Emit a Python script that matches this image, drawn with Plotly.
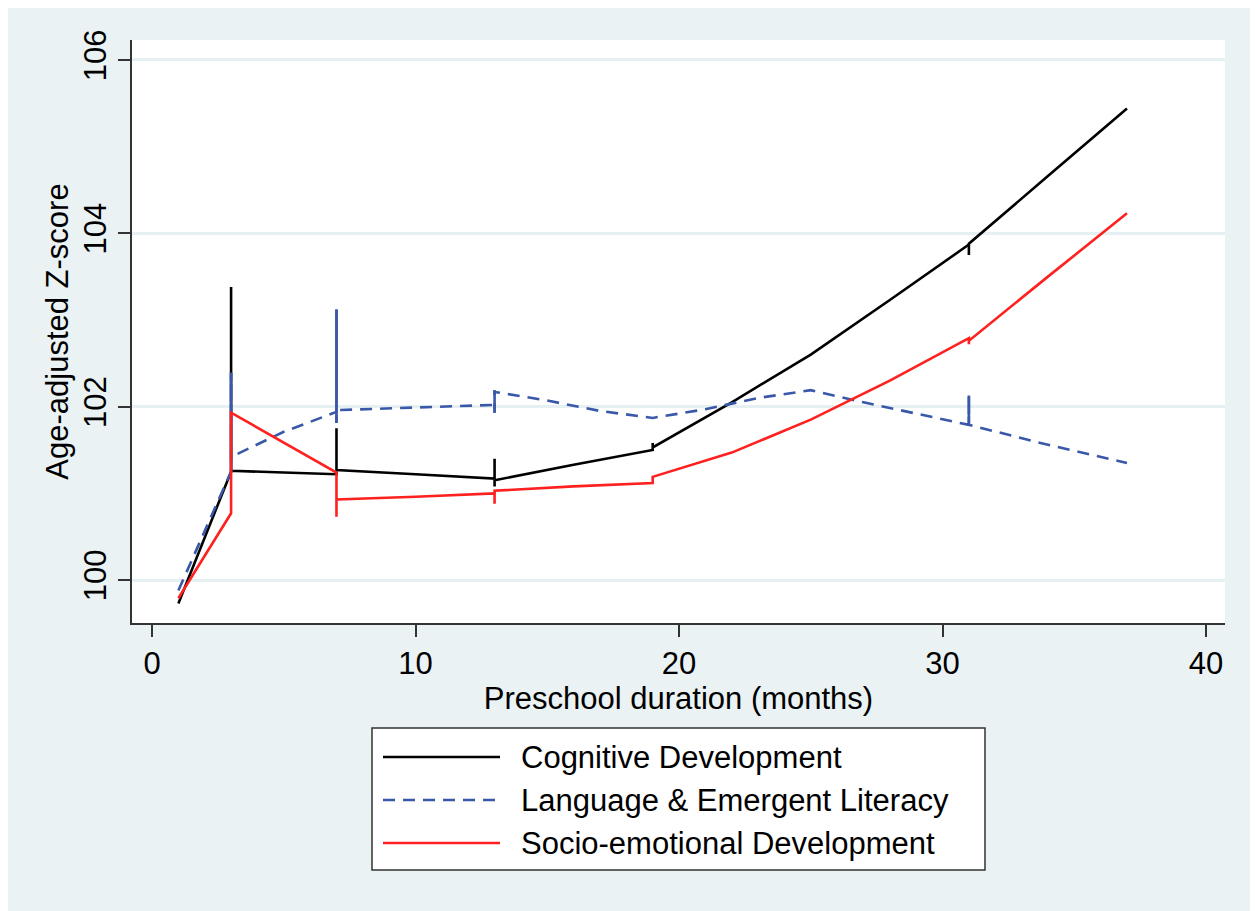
import plotly.graph_objects as go

# ---------------- data ----------------
months_cog = [1, 3, 3, 3, 5, 7, 7, 7, 10, 13, 13, 13, 13, 16, 19, 19, 19, 22, 25, 28, 31, 31, 31, 34, 37]
cognitive = [99.73, 101.25, 103.38, 101.26, 101.24, 101.22, 101.75, 101.27, 101.22,
             101.17, 101.40, 101.08, 101.15, 101.33, 101.50, 101.58, 101.53,
             102.05, 102.60, 103.23, 103.87, 103.75, 103.88, 104.66, 105.44]

months_lang = [1, 3, 3, 3, 5, 7, 7, 7, 7, 10, 13, 13, 13, 13, 15, 17, 19, 21, 23, 25, 27, 29, 31, 31, 31, 34, 37]
language = [99.88, 101.25, 102.39, 101.42, 101.71, 101.94, 103.12, 101.81, 101.96, 101.99,
            102.02, 101.93, 102.19, 102.17, 102.07, 101.95, 101.87, 101.97, 102.10,
            102.19, 102.05, 101.92, 101.79, 102.13, 101.79, 101.56, 101.35]

months_soc = [1, 3, 3, 7, 7, 7, 10, 13, 13, 13, 16, 19, 19, 22, 25, 28, 31, 31, 31, 34, 37]
socio = [99.79, 100.77, 101.93, 101.24, 100.73, 100.93, 100.96, 101.00, 100.88, 101.03,
         101.08, 101.12, 101.19, 101.47, 101.85, 102.30, 102.79, 102.72, 102.76, 103.50, 104.23]

series_names = ["Cognitive Development", "Language & Emergent Literacy", "Socio-emotional Development"]
x_ticks = [0, 10, 20, 30, 40]
y_ticks = [100, 102, 104, 106]

# ---------------- style ----------------
FONT = "Liberation Sans, Arial, sans-serif"
FS = 31
BG = "#EAF2F3"
AXC = "#333333"
colors = ["#000000", "#3A58A8", "#FF2020"]
dashes = ["solid", "12px,8px", "solid"]

PAGE_W, PAGE_H = 1258, 911
OFF = 8  # default page body margin (gives the thin white border)
W, H = PAGE_W - OFF, PAGE_H - OFF
L, R, T, B = 132, 1225, 40, 623  # plot area in page pixels


def px(xp):
    return (xp - L) / (R - L)


def py(yp):
    return (B - yp) / (B - T)


def vertical_parts(xs, ys):
    """Runs of points sharing the same x (drawn solid, as in the original)."""
    vx, vy = [], []
    i = 0
    while i < len(xs):
        j = i
        while j + 1 < len(xs) and xs[j + 1] == xs[i]:
            j += 1
        if j > i:
            vx += xs[i:j + 1] + [None]
            vy += ys[i:j + 1] + [None]
        i = j + 1
    return vx, vy


fig = go.Figure()
for xs, ys, name, c, d in zip([months_cog, months_lang, months_soc],
                              [cognitive, language, socio],
                              series_names, colors, dashes):
    fig.add_trace(go.Scatter(x=xs, y=ys, mode="lines", name=name,
                             line=dict(color=c, width=2.6, dash=d),
                             showlegend=False, hoverinfo="x+y+name"))
    if d != "solid":
        vx, vy = vertical_parts(xs, ys)
        fig.add_trace(go.Scatter(x=vx, y=vy, mode="lines", name=name,
                                 line=dict(color=c, width=2.6), connectgaps=False,
                                 showlegend=False, hoverinfo="skip"))

shapes = []
annotations = []
# legend box (drawn manually to match long sample lines)
shapes.append(dict(type="rect", xref="paper", yref="paper", x0=px(372), x1=px(985), y0=py(870), y1=py(728),
                   fillcolor="white", line=dict(color=AXC, width=1.5)))
rows = [757, 800, 843]
for name, c, d, ry in zip(series_names, colors, dashes, rows):
    shapes.append(dict(type="line", xref="paper", yref="paper", x0=px(383), x1=px(500), y0=py(ry), y1=py(ry),
                       line=dict(color=c, width=2.6, dash=d)))
    annotations.append(dict(xref="paper", yref="paper", x=px(519), y=py(ry), text=name, showarrow=False,
                            xanchor="left", yanchor="middle", font=dict(family=FONT, size=FS, color="black")))

fig.update_layout(
    width=W, height=H,
    margin=dict(l=L - OFF, r=PAGE_W - R, t=T - OFF, b=PAGE_H - B, pad=0),
    paper_bgcolor=BG, plot_bgcolor="white",
    font=dict(family=FONT, size=FS, color="black"),
    shapes=shapes, annotations=annotations,
    xaxis=dict(range=[-0.76, 40.72], tickvals=x_ticks, ticks="outside", ticklen=12, tickwidth=1.5,
               tickcolor=AXC, showline=True, linecolor=AXC, linewidth=1.5, showgrid=False, zeroline=False,
               tickfont=dict(family=FONT, size=FS),
               title=dict(text="Preschool duration (months)", font=dict(family=FONT, size=FS), standoff=2)),
    yaxis=dict(range=[99.504, 106.23], tickvals=y_ticks, tickangle=-90, ticks="outside", ticklen=12,
               tickwidth=1.5, tickcolor=AXC, showline=True, linecolor=AXC, linewidth=1.5,
               showgrid=True, gridcolor="#E6EFF1", gridwidth=2.5, zeroline=False,
               tickfont=dict(family=FONT, size=FS),
               title=dict(text="Age-adjusted Z-score", font=dict(family=FONT, size=FS), standoff=0)),
)

fig.write_html("out.html")
